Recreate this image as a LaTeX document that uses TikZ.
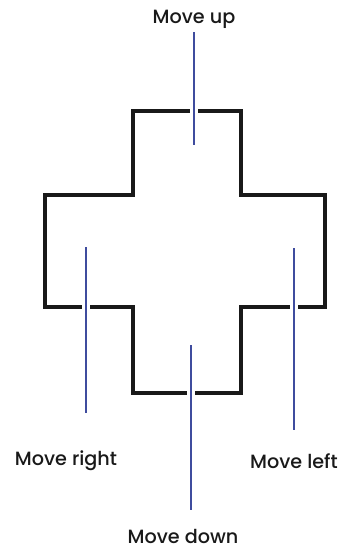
\documentclass[tikz,border=0pt]{standalone}
\usepackage{fontspec}
\setmainfont{Poppins}[UprightFont=*-Medium]
\begin{document}
\begin{tikzpicture}[x=0.5pt,y=-0.5pt,
  outline/.style={line width=1.8pt,draw=black!90,line join=miter},
  pointer/.style={line width=1.1pt,draw=lineblue,preaction={draw=white,line width=4pt}},
  lab/.style={inner sep=0pt,font=\fontsize{9.6}{11}\selectfont,text=black!90}]
\definecolor{lineblue}{HTML}{3F4C9E}
\useasboundingbox (0,0) rectangle (343,547);
\draw[outline] (133,111) -- (241,111) -- (241,195) -- (325,195) -- (325,307) -- (241,307)
  -- (241,393) -- (133,393) -- (133,307) -- (45,307) -- (45,195) -- (133,195) -- cycle;
\node[lab] (up) at (194,19) {Move up};
\node[lab] (right) at (66,461) {Move right};
\node[lab] (left) at (294,461) {Move left};
\node[lab] (down) at (183,536) {Move down};
\coordinate (upA) at (194,32);
\coordinate (upB) at (194,145);
\coordinate (rA) at (86,247);
\coordinate (rB) at (86,413);
\coordinate (lA) at (294,248);
\coordinate (lB) at (294,430);
\coordinate (dA) at (191,345);
\coordinate (dB) at (191,510);
\draw[pointer] (upA) -- (upB);
\draw[pointer] (rA) -- (rB);
\draw[pointer] (lA) -- (lB);
\draw[pointer] (dA) -- (dB);
\end{tikzpicture}
\end{document}
